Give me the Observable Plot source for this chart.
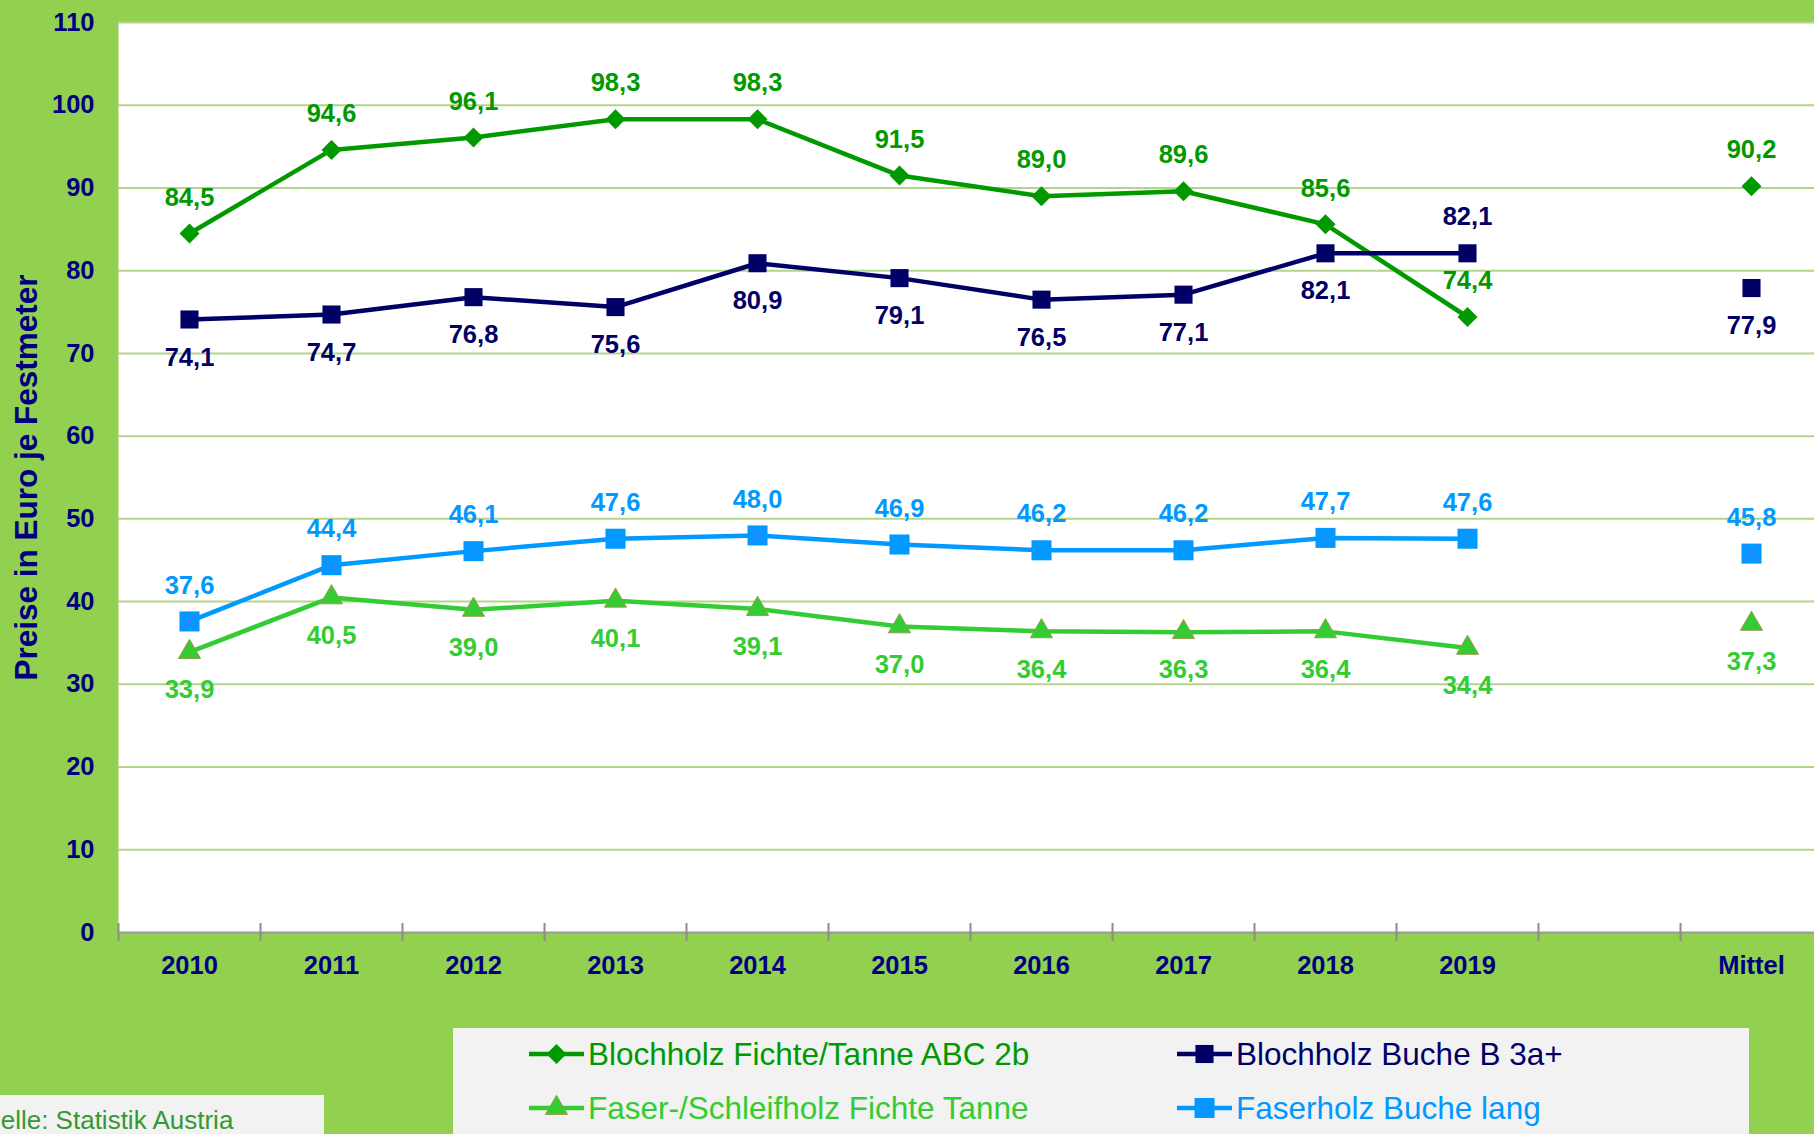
<!DOCTYPE html>
<html>
<head>
<meta charset="utf-8">
<script src="https://cdn.jsdelivr.net/npm/d3@7"></script>
<script src="https://cdn.jsdelivr.net/npm/@observablehq/plot@0.6"></script>
<style>
  html, body { margin: 0; padding: 0; background: #92D050; }
  #wrap { position: relative; width: 1814px; height: 1134px; overflow: hidden; background: #92D050;
          font-family: "Liberation Sans", Arial, sans-serif; }
  #chart { position: absolute; left: 0; top: 0; }
  #legend { position: absolute; left: 453px; top: 1028px; width: 1296px; height: 130px; background: #f2f2f2; }
  .item { position: absolute; display: flex; align-items: center; height: 40px; font-size: 31.5px; white-space: nowrap; }
  .item svg { margin-right: 4px; flex: none; }
  #source { position: absolute; left: 0; top: 1095px; width: 324px; height: 60px; background: #f2f2f2; }
  #source span { position: absolute; left: -34px; top: 10px; font-size: 26px; line-height: 30px; color: #339933; white-space: nowrap; }
</style>
</head>
<body>
<div id="wrap">
  <div id="chart"></div>
  <div id="legend"></div>
  <div id="source"><span>Quelle: Statistik Austria</span></div>
</div>
<script>
// ---- data ----
const categories = ["2010", "2011", "2012", "2013", "2014", "2015", "2016", "2017", "2018", "2019", "", "Mittel"];
const years = ["2010", "2011", "2012", "2013", "2014", "2015", "2016", "2017", "2018", "2019"];
const seriesNames = [
  "Blochholz Fichte/Tanne ABC 2b",
  "Blochholz Buche B 3a+",
  "Faser-/Schleifholz Fichte Tanne",
  "Faserholz Buche lang"
];
const blochholzFichteTanne = [84.5, 94.6, 96.1, 98.3, 98.3, 91.5, 89.0, 89.6, 85.6, 74.4];
const blochholzBuche       = [74.1, 74.7, 76.8, 75.6, 80.9, 79.1, 76.5, 77.1, 82.1, 82.1];
const faserSchleifholzFichteTanne = [33.9, 40.5, 39.0, 40.1, 39.1, 37.0, 36.4, 36.3, 36.4, 34.4];
const faserholzBuche       = [37.6, 44.4, 46.1, 47.6, 48.0, 46.9, 46.2, 46.2, 47.7, 47.6];
const mittelValues = [90.2, 77.9, 37.3, 45.8];
const yTicks = [0, 10, 20, 30, 40, 50, 60, 70, 80, 90, 100, 110];
const yTitle = "Preise in Euro je Festmeter";

// ---- styles ----
const styles = [
  {color: "#009900", symbol: "diamond2", r: 9,    stroke: "none",    labels: "above", aboveAt: []},
  {color: "#000066", symbol: "square",   r: 10.2, stroke: "none",    labels: "below", aboveAt: ["2019"]},
  {color: "#33CC33", symbol: "triangle", r: 8.2,  stroke: "#9a9a4c", labels: "below", aboveAt: []},
  {color: "#0099FF", symbol: "square",   r: 11.3, stroke: "none",    labels: "above", aboveAt: []}
];
const allValues = [blochholzFichteTanne, blochholzBuche, faserSchleifholzFichteTanne, faserholzBuche];

const fmt = v => v.toFixed(1).replace(".", ",");
const xOf = c => categories.indexOf(c) + 0.5;

const marks = [
  Plot.frame({fill: "white", stroke: null}),
  Plot.ruleY(yTicks.filter(d => d > 0), {stroke: "#b3d48a", strokeWidth: 2}),
  Plot.ruleY([0], {stroke: "#9a9a9a", strokeWidth: 2}),
  Plot.axisX({ticks: d3.range(0, categories.length + 1), tickSize: 18, dy: -9, tickFormat: () => "", stroke: "#8c8c8c", strokeWidth: 2}),
  Plot.text(categories.filter(c => c !== ""), {x: c => xOf(c), frameAnchor: "bottom", dy: 41, text: d => d,
    fill: "#000080", fontWeight: "bold", fontSize: 25.5}),
  Plot.axisY({ticks: yTicks, tickSize: 0, tickPadding: 24, tickFormat: d => String(d),
    fill: "#000080", fontWeight: "bold", fontSize: 25.5, label: null}),
  Plot.text([yTitle], {frameAnchor: "left", textAnchor: "middle", dx: -92, rotate: -90, text: d => d,
    fill: "#000080", fontWeight: "bold", fontSize: 31.5})
];

allValues.forEach((vals, s) => {
  const st = styles[s];
  const rows = years.map((y, i) => ({cat: y, value: vals[i]}));
  marks.push(Plot.line(rows, {x: d => xOf(d.cat), y: "value", stroke: st.color, strokeWidth: 4.5}));
});
allValues.forEach((vals, s) => {
  const st = styles[s];
  const rows = years.map((y, i) => ({cat: y, value: vals[i]}));
  const pts = rows.concat([{cat: "Mittel", value: mittelValues[s]}]);
  marks.push(Plot.dot(pts, {x: d => xOf(d.cat), y: "value", symbol: st.symbol, r: st.r,
    fill: st.color, stroke: st.stroke, strokeWidth: 1}));
  if (s === 3) {
    marks.push(Plot.dot(pts, {x: d => xOf(d.cat), y: "value", symbol: "times", r: 7,
      stroke: "#3b82ff", strokeWidth: 1}));
  }
  const isAbove = d => (st.labels === "above") !== st.aboveAt.includes(d.cat);
  const common = {x: d => xOf(d.cat), y: "value", text: d => fmt(d.value), fill: st.color,
    fontWeight: "bold", fontSize: 25.5};
  marks.push(Plot.text(pts.filter(isAbove), {...common, dy: -36}));
  marks.push(Plot.text(pts.filter(d => !isAbove(d)), {...common, dy: 38}));
});

const chart = Plot.plot({
  width: 1814,
  height: 1000,
  marginTop: 22,
  marginBottom: 68,
  marginLeft: 118,
  marginRight: 0,
  style: {background: "transparent", fontFamily: '"Liberation Sans", Arial, sans-serif', overflow: "visible"},
  x: {type: "linear", domain: [0, categories.length], range: [118, 1822], axis: null},
  y: {domain: [0, 110], axis: null},
  marks
});
document.getElementById("chart").appendChild(chart);

// ---- legend ----
const legend = document.getElementById("legend");
const legendPos = [
  {left: 76, top: 6}, {left: 724, top: 6}, {left: 76, top: 60}, {left: 724, top: 60}
];
const legendOrder = [0, 1, 2, 3];
legendOrder.forEach((s, k) => {
  const st = styles[s];
  const item = document.createElement("div");
  item.className = "item";
  item.style.left = legendPos[k].left + "px";
  item.style.top = legendPos[k].top + "px";
  item.style.color = st.color;
  const svg = d3.create("svg").attr("width", 55).attr("height", 40);
  svg.append("line").attr("x1", 0).attr("x2", 55).attr("y1", 20).attr("y2", 20)
    .attr("stroke", st.color).attr("stroke-width", 4.5);
  const symMap = {diamond2: d3.symbolDiamond2, square: d3.symbolSquare, triangle: d3.symbolTriangle};
  svg.append("path").attr("transform", "translate(27.5,20)")
    .attr("d", d3.symbol(symMap[st.symbol], st.r * st.r * Math.PI)())
    .attr("fill", st.color).attr("stroke", st.stroke).attr("stroke-width", 1);
  if (s === 3) {
    svg.append("path").attr("transform", "translate(27.5,20)")
      .attr("d", d3.symbol(d3.symbolTimes, 49 * Math.PI)())
      .attr("fill", "none").attr("stroke", "#3b82ff").attr("stroke-width", 1);
  }
  item.appendChild(svg.node());
  const span = document.createElement("span");
  span.textContent = seriesNames[s];
  item.appendChild(span);
  legend.appendChild(item);
});
</script>
</body>
</html>
